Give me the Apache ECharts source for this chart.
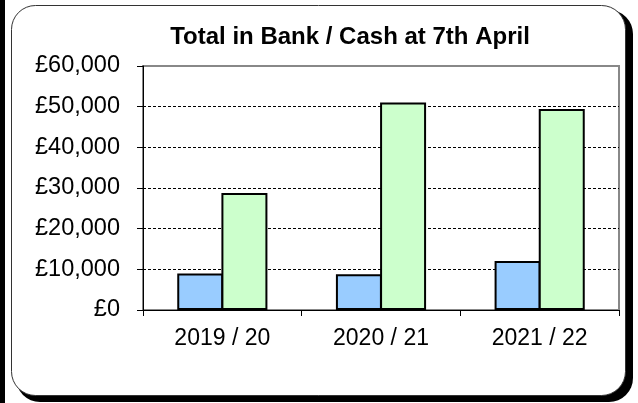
<!DOCTYPE html>
<html>
<head>
<meta charset="utf-8">
<script src="https://cdn.jsdelivr.net/npm/echarts@6/dist/echarts.min.js"></script>
<style>
html,body{margin:0;padding:0;background:#fff;}
#c{width:638px;height:403px;}
</style>
</head>
<body>
<div id="c"></div>
<script>
var categories = ['2019 / 20', '2020 / 21', '2021 / 22'];
var bankValues = [9000, 8800, 12050];
var cashValues = [28800, 51000, 49400];
var yTicks = [0, 10000, 20000, 30000, 40000, 50000, 60000];
var titleText = 'Total in Bank / Cash at 7th April';

var chart = echarts.init(document.getElementById('c'), null, {renderer: 'canvas'});
var FONT = '"Liberation Sans", Arial, sans-serif';
function fmt(v){ return '£' + v.toLocaleString('en-GB'); }

chart.setOption({
  animation: false,
  backgroundColor: '#fff',
  graphic: [
    {type: 'rect', z: -10, shape: {x: 0, y: 0, width: 5, height: 403}, style: {fill: '#000'}},
    {type: 'rect', z: -10, shape: {x: 16, y: 10, width: 617, height: 392, r: 24}, style: {fill: '#000'}},
    {type: 'rect', z: -9, shape: {x: 11.5, y: 5.5, width: 614, height: 390, r: 24}, style: {fill: '#fff', stroke: '#333', lineWidth: 1}}
  ],
  title: {
    text: titleText,
    left: 345, top: 20, textAlign: 'center',
    textStyle: {fontFamily: FONT, fontSize: 24, fontWeight: 'bold', color: '#000'}
  },
  grid: {left: 143, right: 19, top: 66, bottom: 93, show: true, borderColor: '#888', borderWidth: 2, backgroundColor: 'transparent'},
  xAxis: {
    type: 'category', data: categories,
    axisLine: {lineStyle: {color: '#000', width: 1}},
    axisTick: {show: true, length: 6, lineStyle: {color: '#000'}},
    axisLabel: {fontFamily: FONT, fontSize: 23, color: '#000', margin: 17}
  },
  yAxis: {
    type: 'value', min: yTicks[0], max: yTicks[yTicks.length-1], interval: yTicks[1]-yTicks[0],
    axisLine: {show: true, lineStyle: {color: '#000', width: 1}},
    axisTick: {show: true, length: 6, lineStyle: {color: '#000'}},
    axisLabel: {fontFamily: FONT, fontSize: 23.5, color: '#000', margin: 23, formatter: fmt},
    splitLine: {show: true, lineStyle: {color: ['#000','#000','#000','#000','#000','#000','rgba(0,0,0,0)'], type: [3, 2], width: 1}}
  },
  series: [
    {name: 'Bank', type: 'bar', data: bankValues, barWidth: 46, barGap: '-4%',
     itemStyle: {color: '#99CCFF', borderColor: '#000', borderWidth: 2}},
    {name: 'Cash', type: 'bar', data: cashValues, barWidth: 46, barGap: '-4%',
     itemStyle: {color: '#CCFFCC', borderColor: '#000', borderWidth: 2}}
  ]
});
</script>
</body>
</html>
